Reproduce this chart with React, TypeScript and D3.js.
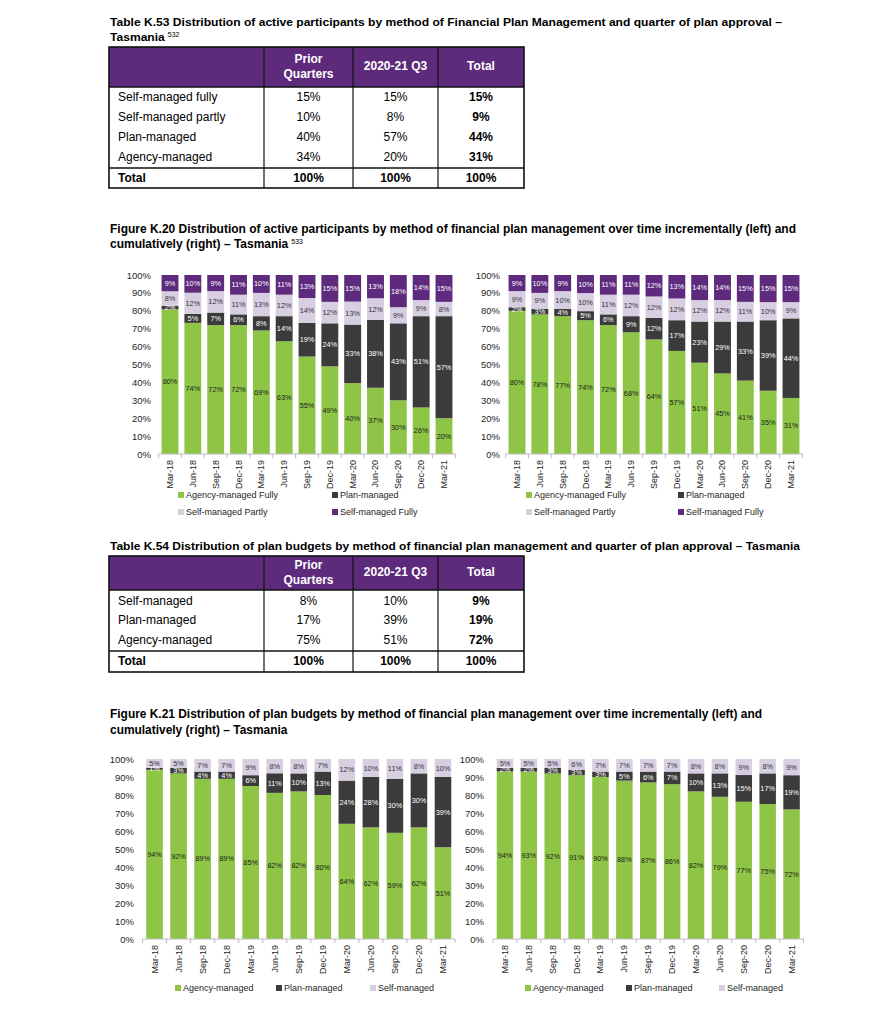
import React, { useLayoutEffect, useRef, useState } from "react";
import * as d3 from "d3";

const FONT = '"Liberation Sans", Arial, Helvetica, sans-serif';

const quarters = ["Mar-18", "Jun-18", "Sep-18", "Dec-18", "Mar-19", "Jun-19", "Sep-19", "Dec-19", "Mar-20", "Jun-20", "Sep-20", "Dec-20", "Mar-21"];

// Figure K.20 – incremental (left)
const k20IncAgency = [80, 74, 72, 72, 69, 63, 55, 49, 40, 37, 30, 26, 20];
const k20IncPlan = [2, 5, 7, 6, 8, 14, 19, 24, 33, 38, 43, 51, 57];
const k20IncPartly = [8, 12, 12, 11, 13, 12, 14, 12, 13, 12, 9, 9, 8];
const k20IncFully = [9, 10, 9, 11, 10, 11, 13, 15, 15, 13, 18, 14, 15];
// Figure K.20 – cumulative (right)
const k20CumAgency = [80, 78, 77, 74, 72, 68, 64, 57, 51, 45, 41, 35, 31];
const k20CumPlan = [2, 3, 4, 5, 6, 9, 12, 17, 23, 29, 33, 39, 44];
const k20CumPartly = [9, 9, 10, 10, 11, 12, 12, 12, 12, 12, 11, 10, 9];
const k20CumFully = [9, 10, 9, 10, 11, 11, 12, 13, 14, 14, 15, 15, 15];

// Figure K.21 – incremental (left)
const k21IncAgency = [94, 92, 89, 89, 85, 82, 82, 80, 64, 62, 59, 62, 51];
const k21IncPlan = [1, 3, 4, 4, 6, 11, 10, 13, 24, 28, 30, 30, 39];
const k21IncSelf = [5, 5, 7, 7, 9, 8, 8, 7, 12, 10, 11, 8, 10];
// Figure K.21 – cumulative (right)
const k21CumAgency = [94, 93, 92, 91, 90, 88, 87, 86, 82, 79, 77, 75, 72];
const k21CumPlan = [2, 2, 3, 3, 3, 5, 6, 7, 10, 13, 15, 17, 19];
const k21CumSelf = [5, 5, 5, 6, 7, 7, 7, 7, 8, 8, 9, 8, 9];

const yTicks = [0, 10, 20, 30, 40, 50, 60, 70, 80, 90, 100];

// Tables
const tableHeaders = ["Prior Quarters", "2020-21 Q3", "Total"];
const k53Rows = ["Self-managed fully", "Self-managed partly", "Plan-managed", "Agency-managed"];
const k53Prior = ["15%", "10%", "40%", "34%"];
const k53Q3 = ["15%", "8%", "57%", "20%"];
const k53Total = ["15%", "9%", "44%", "31%"];
const k54Rows = ["Self-managed", "Plan-managed", "Agency-managed"];
const k54Prior = ["8%", "17%", "75%"];
const k54Q3 = ["10%", "39%", "51%"];
const k54Total = ["9%", "19%", "72%"];
const totalRow = ["Total", "100%", "100%", "100%"];

const C_GREEN = "#8fc546";
const C_DARK = "#3b3b3b";
const C_LAV = "#d8cee2";
const C_PURPLE = "#5e2a7e";
const C_HEADER = "#5e2b7c";

function Title({ x, y, lines, lineH, width, size, sup }: any) {
  const refs = useRef<(SVGTextElement | null)[]>([]);
  const [w, setW] = useState<number[] | null>(null);
  useLayoutEffect(() => {
    if (w) return;
    setW(refs.current.map((t) => (t ? t.getComputedTextLength() : 0)));
  }, []);
  const k = w ? width / w[0] : 1;
  const last = lines.length - 1;
  return (
    <g fontFamily={FONT} fontWeight="bold" fill="#000">
      {lines.map((l: string, i: number) => (
        <text
          key={i}
          ref={(el) => {
            refs.current[i] = el;
          }}
          x={x}
          y={y + i * lineH}
          fontSize={size}
          textLength={w ? w[i] * k : undefined}
          lengthAdjust="spacingAndGlyphs"
        >
          {l}
        </text>
      ))}
      {sup && w && (
        <text x={x + w[last] * k + 3} y={y + last * lineH - 4} fontSize={7} fontWeight="normal">
          {sup}
        </text>
      )}
    </g>
  );
}

function Table({ cols, top, headerBottom, rowYs, sepY, totalY, bottom, headY, rows, prior, q3, total }: any) {
  const centers = [0, 1, 2].map((i) => (cols[i + 1] + cols[i + 2]) / 2);
  const values = [prior, q3, total];
  return (
    <g fontFamily={FONT} fontSize={12}>
      <rect x={cols[0]} y={top} width={cols[4] - cols[0]} height={headerBottom - top} fill={C_HEADER} />
      <text x={centers[0]} y={headY - 7.5} textAnchor="middle" dominantBaseline="central" fill="#fff" fontWeight="bold">
        {tableHeaders[0].split(" ")[0]}
      </text>
      <text x={centers[0]} y={headY + 7.5} textAnchor="middle" dominantBaseline="central" fill="#fff" fontWeight="bold">
        {tableHeaders[0].split(" ")[1]}
      </text>
      <text x={centers[1]} y={headY} textAnchor="middle" dominantBaseline="central" fill="#fff" fontWeight="bold">
        {tableHeaders[1]}
      </text>
      <text x={centers[2]} y={headY} textAnchor="middle" dominantBaseline="central" fill="#fff" fontWeight="bold">
        {tableHeaders[2]}
      </text>
      {rows.map((r: string, i: number) => (
        <g key={r}>
          <text x={cols[0] + 9} y={rowYs[i]} dominantBaseline="central">
            {r}
          </text>
          {values.map((v: string[], j: number) => (
            <text key={j} x={centers[j]} y={rowYs[i]} textAnchor="middle" dominantBaseline="central" fontWeight={j === 2 ? "bold" : "normal"}>
              {v[i]}
            </text>
          ))}
        </g>
      ))}
      <text x={cols[0] + 9} y={totalY} dominantBaseline="central" fontWeight="bold">
        {totalRow[0]}
      </text>
      {[0, 1, 2].map((j) => (
        <text key={j} x={centers[j]} y={totalY} textAnchor="middle" dominantBaseline="central" fontWeight="bold">
          {totalRow[j + 1]}
        </text>
      ))}
      {[1, 2, 3].map((i) => (
        <line key={i} x1={cols[i]} x2={cols[i]} y1={top} y2={bottom} stroke="#111" strokeWidth={1.2} />
      ))}
      <line x1={cols[0]} x2={cols[4]} y1={headerBottom} y2={headerBottom} stroke="#111" strokeWidth={1.4} />
      <line x1={cols[0]} x2={cols[4]} y1={sepY} y2={sepY} stroke="#111" strokeWidth={1.6} />
      <rect x={cols[0]} y={top} width={cols[4] - cols[0]} height={bottom - top} fill="none" stroke="#111" strokeWidth={1.6} />
    </g>
  );
}

function StackedChart({ r0, r1, yTop, yBottom, pad, tickX, series, legend }: any) {
  const x = d3.scaleBand<string>().domain(quarters).range([r0, r1]).paddingInner(pad).paddingOuter(pad / 2);
  const y = d3.scaleLinear().domain([0, 1]).range([yBottom, yTop]);
  const rows = quarters.map((q, i) => {
    const o: any = { q };
    series.forEach((s: any) => (o[s.name] = s.values[i]));
    return o;
  });
  const stack = d3
    .stack<any>()
    .keys(series.map((s: any) => s.name))
    .offset(d3.stackOffsetExpand);
  const layers = stack(rows);
  const step = x.step();
  return (
    <g fontFamily={FONT}>
      {yTicks.map((t) => (
        <text key={t} x={tickX} y={y(t / 100)} textAnchor="end" dominantBaseline="central" fontSize={9.5} fill="#1e1e1e">
          {t}%
        </text>
      ))}
      {layers.map((layer, li) => (
        <g key={layer.key}>
          {layer.map((d, i) => (
            <rect key={i} x={x(quarters[i])} y={y(d[1])} width={x.bandwidth()} height={y(d[0]) - y(d[1])} fill={series[li].color} />
          ))}
        </g>
      ))}
      {layers.map((layer, li) => (
        <g key={"l" + layer.key}>
          {layer.map((d, i) => (
            <text
              key={i}
              x={(x(quarters[i]) as number) + x.bandwidth() / 2}
              y={(y(d[0]) + y(d[1])) / 2}
              textAnchor="middle"
              dominantBaseline="central"
              fontSize={7.3}
              fill={series[li].text}
            >
              {series[li].values[i]}%
            </text>
          ))}
        </g>
      ))}
      <line x1={r0} x2={r1} y1={yBottom} y2={yBottom} stroke="#bdbdbd" strokeWidth={1} />
      {d3.range(quarters.length + 1).map((i) => (
        <line key={i} x1={r0 + i * step} x2={r0 + i * step} y1={yBottom} y2={yBottom + 4} stroke="#bdbdbd" strokeWidth={1} />
      ))}
      {quarters.map((q) => {
        const cx = (x(q) as number) + x.bandwidth() / 2;
        const cy = yBottom + 6;
        return (
          <text key={q} x={cx} y={cy} transform={`rotate(-90 ${cx} ${cy})`} textAnchor="end" dominantBaseline="central" fontSize={9} fill="#1e1e1e">
            {q}
          </text>
        );
      })}
      {legend.map((l: any) => (
        <g key={l.name}>
          <rect x={l.x} y={l.y - 3} width={6} height={6} fill={l.color} />
          <text x={l.x + 8} y={l.y} dominantBaseline="central" fontSize={9} fill="#1e1e1e">
            {l.name}
          </text>
        </g>
      ))}
    </g>
  );
}

export default function App() {
  const k20Series = (a: number[], p: number[], sp: number[], sf: number[]) => [
    { name: "Agency-managed Fully", values: a, color: C_GREEN, text: "#1b1b1b" },
    { name: "Plan-managed", values: p, color: C_DARK, text: "#ffffff" },
    { name: "Self-managed Partly", values: sp, color: C_LAV, text: "#333" },
    { name: "Self-managed Fully", values: sf, color: C_PURPLE, text: "#ffffff" },
  ];
  const k21Series = (a: number[], p: number[], s: number[]) => [
    { name: "Agency-managed", values: a, color: C_GREEN, text: "#1b1b1b" },
    { name: "Plan-managed", values: p, color: C_DARK, text: "#ffffff" },
    { name: "Self-managed", values: s, color: C_LAV, text: "#333" },
  ];
  const k20Legend = (xa: number, xb: number) => [
    { name: "Agency-managed Fully", color: C_GREEN, x: xa, y: 495 },
    { name: "Plan-managed", color: C_DARK, x: xb, y: 495 },
    { name: "Self-managed Partly", color: C_LAV, x: xa, y: 512 },
    { name: "Self-managed Fully", color: C_PURPLE, x: xb, y: 512 },
  ];
  const k21Legend = (xa: number, xb: number, xc: number) => [
    { name: "Agency-managed", color: C_GREEN, x: xa, y: 988 },
    { name: "Plan-managed", color: C_DARK, x: xb, y: 988 },
    { name: "Self-managed", color: C_LAV, x: xc, y: 988 },
  ];
  return (
    <svg width={885} height={1024} style={{ position: "absolute", left: 0, top: 0, background: "#fff" }}>
      <rect width={885} height={1024} fill="#fff" />
      <Title
        x={110}
        y={26}
        lineH={15}
        size={11.5}
        width={672}
        lines={["Table K.53 Distribution of active participants by method of Financial Plan Management and quarter of plan approval –", "Tasmania"]}
        sup="532"
      />
      <Table
        cols={[109, 264, 353, 438, 524]}
        top={47}
        headerBottom={87}
        headY={66}
        rowYs={[97, 117, 137, 157]}
        sepY={168}
        totalY={178}
        bottom={188}
        rows={k53Rows}
        prior={k53Prior}
        q3={k53Q3}
        total={k53Total}
      />
      <Title
        x={110}
        y={233}
        lineH={15}
        size={12}
        width={686}
        lines={["Figure K.20 Distribution of active participants by method of financial plan management over time incrementally (left) and", "cumulatively (right) – Tasmania"]}
        sup="533"
      />
      <StackedChart r0={158.6} r1={455.4} yTop={275} yBottom={454} pad={0.26} tickX={151} series={k20Series(k20IncAgency, k20IncPlan, k20IncPartly, k20IncFully)} legend={k20Legend(178, 332)} />
      <StackedChart r0={505.6} r1={802.4} yTop={275} yBottom={454} pad={0.26} tickX={500} series={k20Series(k20CumAgency, k20CumPlan, k20CumPartly, k20CumFully)} legend={k20Legend(526, 678)} />
      <Title
        x={110}
        y={550}
        lineH={15}
        size={11.5}
        width={690}
        lines={["Table K.54 Distribution of plan budgets by method of financial plan management and quarter of plan approval – Tasmania"]}
      />
      <Table
        cols={[109, 264, 353, 438, 524]}
        top={556}
        headerBottom={590}
        headY={572}
        rowYs={[601, 620, 640]}
        sepY={651}
        totalY={661}
        bottom={672}
        rows={k54Rows}
        prior={k54Prior}
        q3={k54Q3}
        total={k54Total}
      />
      <Title
        x={110}
        y={718}
        lineH={16}
        size={12}
        width={652}
        lines={["Figure K.21 Distribution of plan budgets by method of financial plan management over time incrementally (left) and", "cumulatively (right) – Tasmania"]}
      />
      <StackedChart r0={142.5} r1={455} yTop={759} yBottom={939} pad={0.31} tickX={134} series={k21Series(k21IncAgency, k21IncPlan, k21IncSelf)} legend={k21Legend(175, 276, 370)} />
      <StackedChart r0={493} r1={803.5} yTop={759} yBottom={939} pad={0.31} tickX={484} series={k21Series(k21CumAgency, k21CumPlan, k21CumSelf)} legend={k21Legend(525, 626, 719)} />
    </svg>
  );
}
